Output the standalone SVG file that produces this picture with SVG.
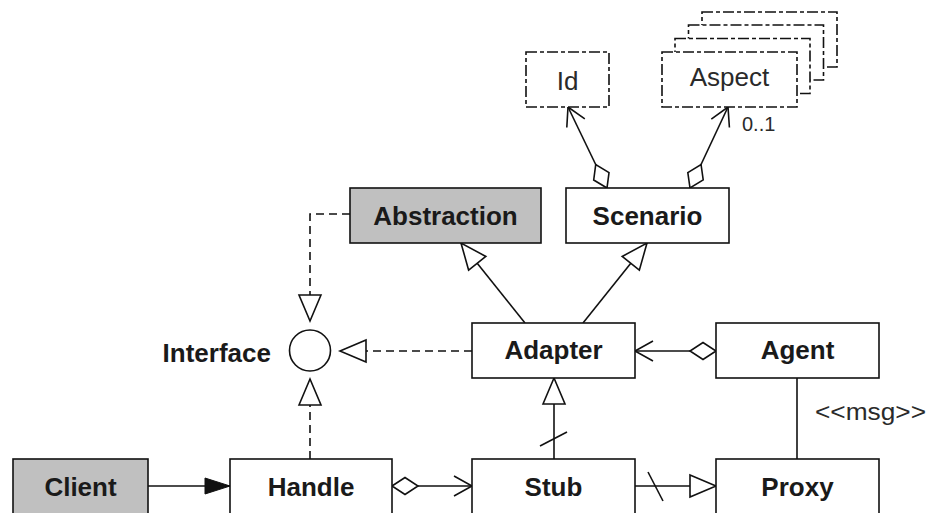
<svg xmlns="http://www.w3.org/2000/svg" width="928" height="513" viewBox="0 0 928 513">
<style>
.box{fill:#fff;stroke:#111;stroke-width:1.6}
.gray{fill:#c0c0c0}
.dbox{fill:#fff;stroke:#111;stroke-width:1.6;stroke-dasharray:11 3 4 3}
.lbl{font-family:"Liberation Sans",Arial,sans-serif;font-size:26px;font-weight:bold;fill:#1a1a1a;text-anchor:middle}
.plain{font-family:"Liberation Sans",Arial,sans-serif;fill:#2a2a2a}
.ln{fill:none;stroke:#111;stroke-width:1.6}
.dash{stroke-dasharray:8 5}
</style>
<defs>
<marker id="hollow" markerUnits="userSpaceOnUse" viewBox="-1 -1 29 25" refX="26" refY="11" markerWidth="29" markerHeight="25" orient="auto" overflow="visible">
<path d="M0,0 L26,11 L0,22 Z" fill="#fff" stroke="#111" stroke-width="1.6"/>
</marker>
<marker id="filled" markerUnits="userSpaceOnUse" viewBox="-1 -1 27 19" refX="25" refY="8" markerWidth="27" markerHeight="19" orient="auto" overflow="visible">
<path d="M0,0 L25,8 L0,16 Z" fill="#111" stroke="#111" stroke-width="1"/>
</marker>
<marker id="open" markerUnits="userSpaceOnUse" viewBox="-1 -1 21 23" refX="18" refY="10" markerWidth="21" markerHeight="23" orient="auto" overflow="visible">
<path d="M0,0 L18,10 L0,20" fill="none" stroke="#111" stroke-width="1.6"/>
</marker>
<marker id="diamond" markerUnits="userSpaceOnUse" viewBox="-1 -1 28 20" refX="0" refY="8.5" markerWidth="28" markerHeight="20" orient="auto" overflow="visible">
<path d="M0,8.5 L13,0 L26,8.5 L13,17 Z" fill="#fff" stroke="#111" stroke-width="1.6"/>
</marker>
</defs>

<g id="connectors">
<path class="ln dash" d="M350,214 H310 V321" marker-end="url(#hollow)"/>
<path class="ln dash" d="M472,351 H340" marker-end="url(#hollow)"/>
<path class="ln dash" d="M310,459 V379" marker-end="url(#hollow)"/>
<path class="ln" d="M525,323 L461,243" marker-end="url(#hollow)"/>
<path class="ln" d="M583,323 L647,243" marker-end="url(#hollow)"/>
<path class="ln" d="M607,188 L568,107" marker-start="url(#diamond)" marker-end="url(#open)"/>
<path class="ln" d="M690,188 L728,107" marker-start="url(#diamond)" marker-end="url(#open)"/>
<path class="ln" d="M716,351 H635" marker-start="url(#diamond)" marker-end="url(#open)"/>
<path class="ln" d="M797,378 V459"/>
<path class="ln" d="M148,486 H230" marker-end="url(#filled)"/>
<path class="ln" d="M392,486 H472" marker-start="url(#diamond)" marker-end="url(#open)"/>
<path class="ln" d="M554,459 V378" marker-end="url(#hollow)"/>
<path class="ln" d="M540,446 L567,432"/>
<path class="ln" d="M635,486 H716" marker-end="url(#hollow)"/>
<path class="ln" d="M648,472 L663,501"/>
<text class="plain" x="815" y="420" font-size="23" textLength="111" lengthAdjust="spacingAndGlyphs">&lt;&lt;msg&gt;&gt;</text>
<text class="plain" x="742" y="131" font-size="20">0..1</text>
</g>

<g id="Id">
<rect class="dbox" x="526" y="52" width="83" height="55"/>
<text class="plain" x="567.5" y="90" font-size="26" text-anchor="middle">Id</text>
</g>

<g id="Aspect">
<rect class="dbox" x="702" y="12" width="135" height="55"/>
<rect class="dbox" x="688.5" y="25" width="135" height="55"/>
<rect class="dbox" x="675" y="38.5" width="135" height="55"/>
<rect class="dbox" x="662" y="52" width="135" height="55"/>
<text class="plain" x="729.5" y="86" font-size="26" text-anchor="middle">Aspect</text>
</g>

<g id="Abstraction">
<rect class="box gray" x="350" y="188" width="191" height="55"/>
<text class="lbl" x="445.5" y="225">Abstraction</text>
</g>

<g id="Scenario">
<rect class="box" x="566" y="188" width="163" height="55"/>
<text class="lbl" x="647.5" y="225">Scenario</text>
</g>

<g id="Interface">
<circle class="box" cx="310" cy="350.5" r="20.5"/>
<text class="lbl" x="271" y="362" style="text-anchor:end">Interface</text>
</g>

<g id="Adapter">
<rect class="box" x="472" y="323" width="163" height="55"/>
<text class="lbl" x="553.5" y="359">Adapter</text>
</g>

<g id="Agent">
<rect class="box" x="716" y="323" width="163" height="55"/>
<text class="lbl" x="797.5" y="359">Agent</text>
</g>

<g id="Client">
<rect class="box gray" x="13" y="459" width="135" height="60"/>
<text class="lbl" x="80.5" y="496">Client</text>
</g>

<g id="Handle">
<rect class="box" x="230" y="459" width="162" height="60"/>
<text class="lbl" x="311" y="496">Handle</text>
</g>

<g id="Stub">
<rect class="box" x="472" y="459" width="163" height="60"/>
<text class="lbl" x="553.5" y="496">Stub</text>
</g>

<g id="Proxy">
<rect class="box" x="716" y="459" width="163" height="60"/>
<text class="lbl" x="797.5" y="496">Proxy</text>
</g>
</svg>
